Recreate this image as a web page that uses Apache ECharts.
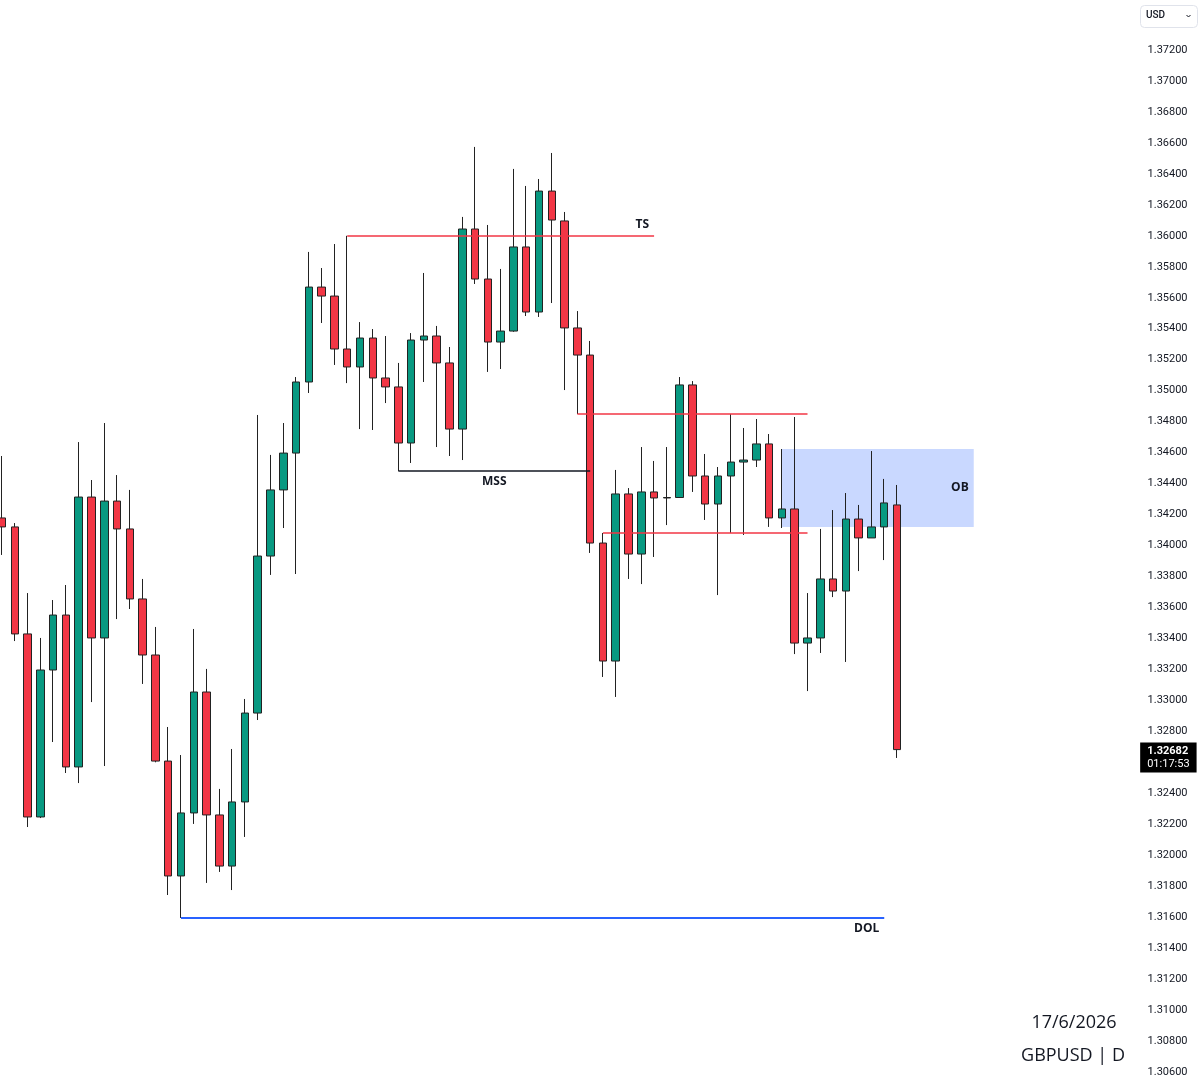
<!DOCTYPE html>
<html>
<head>
<meta charset="utf-8">
<title>GBPUSD D</title>
<script src="https://cdn.jsdelivr.net/npm/echarts@6/dist/echarts.min.js"></script>
<style>
  html, body { margin: 0; padding: 0; background: #fff; }
  #chart { width: 1200px; height: 1089px; }
</style>
</head>
<body>
<div id="chart"></div>
<script>
// daily candles, oldest first
var opens = [1.34178, 1.34120, 1.33429, 1.32247, 1.33196, 1.33551, 1.32570, 1.34313, 1.33403, 1.34287,
  1.34107, 1.33655, 1.33293, 1.32608, 1.31866, 1.32273, 1.33054, 1.32260, 1.31930, 1.32344,
  1.32918, 1.33932, 1.34359, 1.34597, 1.35056, 1.35669, 1.35611, 1.35269, 1.35153, 1.35340,
  1.35082, 1.35024, 1.34662, 1.35327, 1.35353, 1.35179, 1.34752, 1.36044, 1.35721, 1.35314,
  1.35385, 1.35928, 1.35508, 1.36289, 1.36096, 1.35405, 1.35230, 1.34016, 1.33254, 1.34333,
  1.33945, 1.34346, 1.34307, 1.34310, 1.35037, 1.34449, 1.34268, 1.34449, 1.34539, 1.34552,
  1.34656, 1.34178, 1.34236, 1.33370, 1.33403, 1.33784, 1.33706, 1.34171, 1.34049, 1.34120,
  1.34262]
var closes = [1.34120, 1.33429, 1.32247, 1.33196, 1.33551, 1.32570, 1.34313, 1.33403, 1.34287, 1.34107,
  1.33655, 1.33293, 1.32608, 1.31866, 1.32273, 1.33054, 1.32260, 1.31930, 1.32344, 1.32918,
  1.33932, 1.34359, 1.34597, 1.35056, 1.35669, 1.35611, 1.35269, 1.35153, 1.35340, 1.35082,
  1.35024, 1.34662, 1.35327, 1.35353, 1.35179, 1.34752, 1.36044, 1.35721, 1.35314, 1.35385,
  1.35928, 1.35508, 1.36289, 1.36102, 1.35405, 1.35230, 1.34016, 1.33254, 1.34333, 1.33945,
  1.34346, 1.34307, 1.34310, 1.35037, 1.34449, 1.34268, 1.34449, 1.34539, 1.34552, 1.34656,
  1.34178, 1.34236, 1.33370, 1.33403, 1.33784, 1.33706, 1.34171, 1.34049, 1.34120, 1.34275,
  1.32682]
var lows = [1.33939, 1.33383, 1.32182, 1.32240, 1.32731, 1.32531, 1.32466, 1.32989, 1.32576, 1.33525,
  1.33590, 1.33106, 1.32600, 1.31743, 1.31595, 1.32202, 1.31821, 1.31892, 1.31775, 1.32118,
  1.32873, 1.33810, 1.34113, 1.33816, 1.34985, 1.35437, 1.35166, 1.35049, 1.34752, 1.34746,
  1.34920, 1.34481, 1.34533, 1.35056, 1.34636, 1.34578, 1.34552, 1.35689, 1.35121, 1.35140,
  1.35380, 1.35482, 1.35476, 1.35566, 1.35004, 1.34849, 1.33952, 1.33151, 1.33022, 1.33784,
  1.33751, 1.33926, 1.34132, 1.34307, 1.34346, 1.34165, 1.33680, 1.34081, 1.34068, 1.34507,
  1.34120, 1.34113, 1.33299, 1.33060, 1.33306, 1.33667, 1.33248, 1.33835, 1.34049, 1.33906,
  1.32628]
var highs = [1.34578, 1.34145, 1.33693, 1.33403, 1.33648, 1.33745, 1.34668, 1.34423, 1.34791, 1.34455,
  1.34359, 1.33784, 1.33474, 1.32828, 1.32647, 1.33461, 1.33203, 1.32428, 1.32686, 1.33009,
  1.34843, 1.34585, 1.34791, 1.35088, 1.35896, 1.35792, 1.35947, 1.36000, 1.35443, 1.35398,
  1.35353, 1.35179, 1.35372, 1.35760, 1.35418, 1.35282, 1.36122, 1.36574, 1.36070, 1.35786,
  1.36432, 1.36322, 1.36367, 1.36535, 1.36154, 1.35514, 1.35321, 1.34081, 1.34488, 1.34371,
  1.34636, 1.34546, 1.34636, 1.35088, 1.35062, 1.34591, 1.34507, 1.34849, 1.34759, 1.34817,
  1.34720, 1.34623, 1.34830, 1.33693, 1.34107, 1.34229, 1.34339, 1.34262, 1.34610, 1.34430,
  1.34391]

// drawn levels: [fromBar, toBar, price]
var tsLine = [27, 51, 1.36000]
var mssLine = [31, 46, 1.34481]
var upperLine = [45, 63, 1.34849]
var lowerLine = [47, 63, 1.34081]
var dolLine = [14, 69, 1.31595]
// order block: [fromBar, toBar, top, bottom]
var obBox = [61, 76, 1.34623, 1.34120]

var yTicks = { min: 1.306, max: 1.372, step: 0.002 }
var countdown = '01:17:53'
var lastDay = [2026, 6, 17]
var slotCount = 89 // empty bars to the right, like the TradingView pane

var up = '#089981'
var down = '#f23645'
var ink = '#131722'

// trading days ending on lastDay, then a few future ones for the empty space
function fmt(d) {
  return d.getUTCFullYear() + '-' + (d.getUTCMonth() + 1) + '-' + d.getUTCDate()
}
var end = new Date(Date.UTC(lastDay[0], lastDay[1] - 1, lastDay[2]))
var days = []
var d = new Date(end)
while (days.length < opens.length) {
  if (d.getUTCDay() !== 0 && d.getUTCDay() !== 6) days.unshift(fmt(d))
  d.setUTCDate(d.getUTCDate() - 1)
}
d = new Date(end)
while (days.length < slotCount) {
  d.setUTCDate(d.getUTCDate() + 1)
  if (d.getUTCDay() !== 0 && d.getUTCDay() !== 6) days.push(fmt(d))
}

var candles = opens.map(function (o, i) {
  return [o, closes[i], lows[i], highs[i]]
})

var tagLabel = { color: ink, fontWeight: 'bold', fontSize: 12, fontFamily: 'Open Sans' }

function level(l, color, width, text, pos) {
  return [
    {
      coord: [l[0], l[2]],
      lineStyle: { color: color, width: width, type: 'solid' },
      label: Object.assign({ show: !!text, formatter: text || '', position: pos, distance: 5 }, tagLabel)
    },
    { coord: [l[1], l[2]] }
  ]
}

var myChart = echarts.init(document.getElementById('chart'))
var bw = 12.786
var lastClose = closes[closes.length - 1]
var option = {
  animation: false,
  backgroundColor: '#fff',
  grid: { left: 2 - bw / 2, top: 50, width: bw * slotCount, height: 1022, outerBoundsMode: 'none' },
  xAxis: {
    type: 'category',
    data: days,
    show: false
  },
  yAxis: {
    type: 'value',
    position: 'right',
    min: yTicks.min,
    max: yTicks.max,
    interval: yTicks.step,
    axisLine: { show: false },
    axisTick: { show: false },
    splitLine: { show: false },
    axisLabel: {
      margin: 14,
      color: ink,
      fontSize: 11,
      fontFamily: 'Roboto',
      formatter: function (v) { return v.toFixed(5) }
    }
  },
  series: [
    {
      type: 'candlestick',
      data: candles,
      barWidth: 8,
      clip: false,
      itemStyle: {
        color: up,
        color0: down,
        borderColor: '#222',
        borderColor0: '#222',
        borderColorDoji: '#222',
        borderWidth: 1
      },
      markArea: {
        silent: true,
        itemStyle: { color: 'rgba(41, 98, 255, 0.25)' },
        label: Object.assign({ position: 'insideRight', distance: 5 }, tagLabel),
        data: [[
          { name: 'OB', coord: [obBox[0], obBox[2]] },
          { coord: [obBox[1], obBox[3]] }
        ]]
      },
      markLine: {
        silent: true,
        symbol: ['none', 'none'],
        data: [
          level(tsLine, down, 1.5, 'TS', 'insideEndTop'),
          level(mssLine, ink, 1.5, 'MSS', 'insideMiddleBottom'),
          level(upperLine, down, 1.5, '', 'end'),
          level(lowerLine, down, 1.5, '', 'end'),
          level(dolLine, '#2962ff', 2, 'DOL', 'insideEndBottom'),
          // last price tag on the price scale
          [
            {
              coord: [opens.length - 1, lastClose],
              lineStyle: { color: 'rgba(0,0,0,0)', width: 1, type: 'solid' },
              label: {
                show: true,
                position: 'end',
                distance: 13,
                offset: [0, 8],
                backgroundColor: '#000',
                padding: [2, 7, 2, 7],
                formatter: '{a|' + lastClose.toFixed(5) + '}\n{b|' + countdown + '}',
                rich: {
                  a: { color: '#fff', fontWeight: 'bold', fontSize: 11, fontFamily: 'Roboto', lineHeight: 13 },
                  b: { color: '#fff', fontSize: 11, fontFamily: 'Roboto', lineHeight: 13 }
                }
              }
            },
            { coord: [slotCount - 1, lastClose] }
          ]
        ]
      }
    }
  ],
  graphic: [
    {
      type: 'rect',
      left: 1140, top: 5,
      shape: { width: 57, height: 22, r: 4 },
      style: { fill: '#fff', stroke: '#e0e3eb', lineWidth: 1 }
    },
    {
      type: 'text',
      left: 1146, top: 10,
      style: { text: 'USD', fill: ink, fontSize: 10, fontFamily: 'Roboto', fontWeight: 500 }
    },
    {
      type: 'polyline',
      shape: { points: [[1186.5, 15], [1188.5, 17], [1190.5, 15]] },
      style: { stroke: ink, lineWidth: 1, fill: null }
    },
    {
      type: 'text',
      x: 1074, y: 1023,
      style: { text: '17/6/2026', fill: ink, fontSize: 18, fontFamily: 'Open Sans', align: 'center', verticalAlign: 'middle' }
    },
    {
      type: 'text',
      x: 1073, y: 1056,
      style: { text: 'GBPUSD | D', fill: ink, fontSize: 18, fontFamily: 'Open Sans', align: 'center', verticalAlign: 'middle' }
    }
  ]
}
myChart.setOption(option)
</script>
</body>
</html>
